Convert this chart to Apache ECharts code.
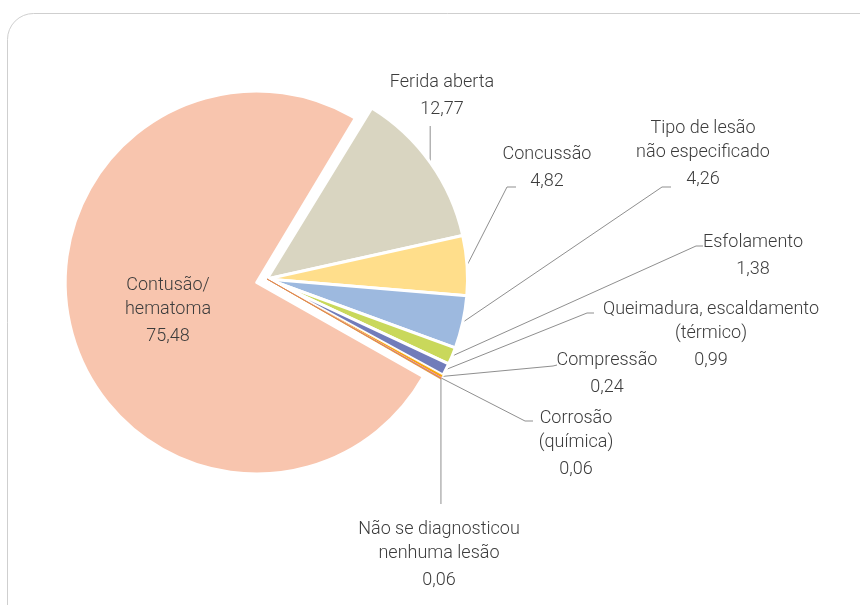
<!DOCTYPE html>
<html>
<head>
<meta charset="utf-8">
<script src="https://cdn.jsdelivr.net/npm/echarts@6/dist/echarts.min.js"></script>
<style>
  html, body { margin: 0; padding: 0; background: #ffffff; }
  #chart { width: 860px; height: 605px; }
</style>
</head>
<body>
<div id="chart"></div>
<script>
// ---- data (in drawing order, clockwise) ----
const categories = [
  'Ferida aberta',
  'Concussão',
  'Tipo de lesão\nnão especificado',
  'Esfolamento',
  'Queimadura, escaldamento\n(térmico)',
  'Compressão',
  'Corrosão\n(química)',
  'Não se diagnosticou\nnenhuma lesão',
  'Contusão/\nhematoma'
];
const values = [12.77, 4.82, 4.26, 1.38, 0.99, 0.24, 0.06, 0.06, 75.48];
const colors = ['#D9D5C1', '#FFDE8B', '#9DB9DF', '#C9D85B', '#717CBA', '#F8A60E', '#D66FA2', '#E0922F', '#F8C5AE'];
const explodedIndex = 8;

// ---- label layout (pixel positions of labels, not data) ----
// x: text centre, y: centre of first text line, bend/end: leader line points
const labelLayoutMap = {
  0: { x: 442, y: 82, vertical: 126 },
  1: { x: 547, y: 154, bend: [507, 187], end: [516, 187] },
  2: { x: 703, y: 128, bend: [662, 187], end: [671, 187] },
  3: { x: 753, y: 242, bend: [696, 246], end: [703, 246] },
  4: { x: 711, y: 309, bend: [587, 313], end: [594, 313] },
  5: { x: 607, y: 360, bend: [553, 366], end: [557, 365] },
  6: { x: 576, y: 418, bend: [525, 421], end: [533, 421] },
  7: { x: 439, y: 529, vertical: 504 },
  8: { x: 168, y: 285 }
};

const fmtValue = v => v.toFixed(2).replace('.', ',');
const textStyleBase = { fontFamily: 'Roboto', fontWeight: 300, fontSize: 18, color: '#3c3c3c' };

function labelText(i) {
  const lines = categories[i].split('\n').map(s => '{n|' + s + '}');
  lines.push('{v|' + fmtValue(values[i]) + '}');
  return lines.join('\n');
}

const rich = {
  n: Object.assign({ lineHeight: 24 }, textStyleBase),
  v: Object.assign({ lineHeight: 30 }, textStyleBase)
};

function buildData(showIndex) {
  return categories.map((name, i) => {
    const visible = showIndex(i);
    let border = { borderColor: '#ffffff', borderWidth: 3 };
    if (values[i] < 0.1) border = { borderColor: colors[i], borderWidth: 0.6 };
    else if (values[i] < 0.5) border = { borderColor: '#ffffff', borderWidth: 0.8 };
    return {
      name: name,
      value: values[i],
      itemStyle: visible
        ? Object.assign({ color: colors[i] }, border)
        : { color: 'rgba(0,0,0,0)', borderWidth: 0 },
      label: { show: visible },
      labelLine: { show: visible && i !== explodedIndex }
    };
  });
}

function layoutFn(params) {
  const L = labelLayoutMap[params.dataIndex];
  if (!L) return {};
  const out = { x: L.x, y: L.y - 12, align: 'center', verticalAlign: 'top' };
  const pts = params.labelLinePoints;
  if (pts && pts.length) {
    const s = pts[0];
    if (L.vertical != null) {
      out.labelLinePoints = [s, [s[0], L.vertical], [s[0], L.vertical]];
    } else if (L.bend) {
      out.labelLinePoints = [s, L.bend, L.end];
    }
  }
  return out;
}

const chart = echarts.init(document.getElementById('chart'), null, { renderer: 'canvas' });

chart.setOption({
  animation: false,
  backgroundColor: '#ffffff',
  graphic: [{
    type: 'rect',
    silent: true,
    shape: { x: 7.5, y: 13.5, width: 890, height: 640, r: 26 },
    style: { fill: 'none', stroke: '#cfcfcf', lineWidth: 1 }
  }],
  series: [
    {
      type: 'pie',
      center: [256.7, 282.5],
      radius: 191.5,
      startAngle: 59,
      clockwise: true,
      silent: true,
      avoidLabelOverlap: false,
      emphasis: { disabled: true },
      label: {
        position: 'inner',
        formatter: p => labelText(p.dataIndex),
        rich: rich
      },
      labelLine: { show: false },
      labelLayout: layoutFn,
      data: buildData(i => i === explodedIndex)
    },
    {
      type: 'pie',
      center: [267, 279],
      radius: 200.5,
      startAngle: 58.5,
      clockwise: true,
      silent: true,
      avoidLabelOverlap: false,
      emphasis: { disabled: true },
      label: {
        position: 'outside',
        formatter: p => labelText(p.dataIndex),
        rich: rich
      },
      labelLine: {
        show: true,
        length: 20,
        length2: 10,
        lineStyle: { color: '#8f8f8f', width: 1 }
      },
      labelLayout: layoutFn,
      data: buildData(i => i !== explodedIndex)
    }
  ]
});
</script>
</body>
</html>
